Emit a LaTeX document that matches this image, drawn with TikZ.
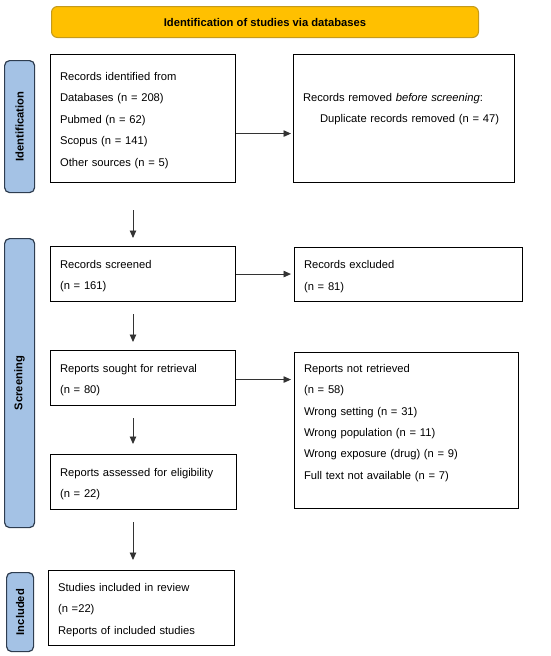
\documentclass[tikz,border=0pt]{standalone}
\usepackage{fontspec}
\setmainfont{Liberation Sans}
\usetikzlibrary{arrows.meta,positioning}
\definecolor{banfill}{HTML}{FFC000}
\definecolor{banedge}{HTML}{C49A1C}
\definecolor{labfill}{HTML}{A4C2E5}
\definecolor{labedge}{HTML}{2E3D50}
\definecolor{arrcol}{HTML}{333333}
\tikzset{
  box/.style={draw=black, line width=1.1pt, anchor=north west, align=left,
    inner xsep=9.5pt, inner ysep=0pt,
    font=\fontsize{11.2}{21.4}\selectfont,
    execute at begin node={\rule{0pt}{12pt}}},
  plainbox/.style={draw=black, line width=1.1pt, anchor=north west, align=left,
    inner xsep=9.5pt, inner ysep=0pt,
    font=\fontsize{11.2}{21.25}\selectfont},
  sidelab/.style={draw=labedge, fill=labfill, line width=1.2pt, rounded corners=5pt,
    anchor=north west, inner sep=0pt},
  sidetext/.style={rotate=90, font=\fontsize{11.2}{13}\selectfont\bfseries},
  arr/.style={draw=arrcol, line width=0.9pt, -{Triangle[width=6.5pt,length=7.5pt]}},
}
\begin{document}
\begin{tikzpicture}[x=1pt,y=-1pt]
\useasboundingbox (0,0) rectangle (550,656);
% banner
\node[draw=banedge, fill=banfill, line width=1pt, rounded corners=6pt, anchor=north west,
  minimum width=427pt, minimum height=31pt, inner sep=0pt,
  font=\fontsize{11.2}{13}\selectfont\bfseries] (ban) at (51,6) {Identification of studies via databases};
% side labels
\node[sidelab, minimum width=30pt, minimum height=132pt] (idlab) at (4,60) {};
\node[sidetext] at (idlab.center) {Identification};
\node[sidelab, minimum width=30pt, minimum height=289pt] (scrlab) at (4,238) {};
\node[sidetext] at (scrlab.center) {Screening};
\node[sidelab, minimum width=27pt, minimum height=79pt] (inclab) at (6,572) {};
\node[sidetext] at (inclab.center) {Included};
% boxes
\node[box, text width=166pt, minimum height=128pt] (b1) at (50,54)
  {Records identified from\\Databases (n = 208)\\Pubmed (n = 62)\\Scopus (n = 141)\\Other sources (n = 5)};
\node[plainbox, text width=202pt, minimum height=128pt] (b2) at (293,54)
  {Records removed \textit{before screening}:\\\hspace*{17pt}Duplicate records removed (n = 47)\\\mbox{}};
\node[box, text width=166pt, minimum height=55pt] (b3) at (50,246)
  {Records screened\\(n = 161)};
\node[box, text width=209pt, minimum height=54pt] (b4) at (294,247)
  {Records excluded\\(n = 81)};
\node[box, text width=166pt, minimum height=55pt] (b5) at (50,350)
  {Reports sought for retrieval\\(n = 80)};
\node[box, text width=205pt, minimum height=156pt] (b6) at (294,352)
  {Reports not retrieved\\(n = 58)\\Wrong setting (n = 31)\\Wrong population (n = 11)\\Wrong exposure (drug) (n = 9)\\Full text not available (n = 7)\\\mbox{}};
\node[box, text width=167pt, minimum height=55pt] (b7) at (50,454)
  {Reports assessed for eligibility\\(n = 22)};
\node[box, text width=167pt, minimum height=75pt] (b8) at (48,570)
  {Studies included in review\\(n =22)\\Reports of included studies};
% arrows
\draw[arr] ([yshift=-15pt]b1.east) -- ([yshift=-15pt,xshift=-2pt]b1.east -| b2.west);
\draw[arr] (b3.east) -- ([xshift=-3pt]b3.east -| b4.west);
\draw[arr] ([yshift=-1.5pt]b5.east) -- ([yshift=-1.5pt,xshift=-3pt]b5.east -| b6.west);
\draw[arr] ([xshift=83pt,yshift=-27pt]b1.south west) -- ([xshift=83pt,yshift=8pt]b3.north west);
\draw[arr] ([xshift=83pt,yshift=-12pt]b3.south west) -- ([xshift=83pt,yshift=8pt]b5.north west);
\draw[arr] ([xshift=83pt,yshift=-12pt]b5.south west) -- ([xshift=83pt,yshift=10pt]b7.north west);
\draw[arr] ([xshift=83pt,yshift=-12pt]b7.south west) -- ([xshift=85pt,yshift=10pt]b8.north west);
\end{tikzpicture}
\end{document}
